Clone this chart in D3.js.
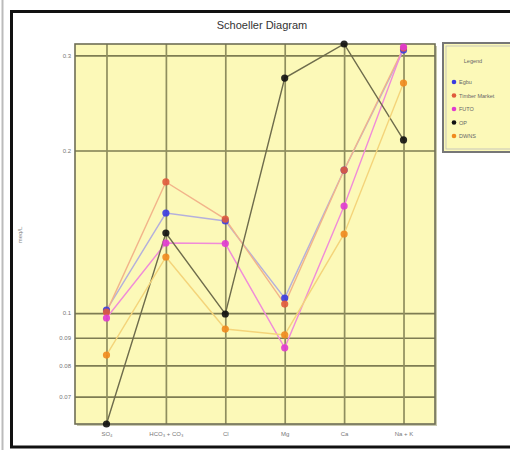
<!DOCTYPE html>
<html>
<head>
<meta charset="utf-8">
<script src="https://cdn.jsdelivr.net/npm/d3@7"></script>
<style>
  body { margin: 0; background: #fff; }
  svg { display: block; font-family: Arial, "Liberation Sans", sans-serif; }
</style>
</head>
<body>
<svg width="510" height="450"></svg>
<script>
// ions along the x axis
var ions = ["SO4", "HCO3+CO3", "Cl", "Mg", "Ca", "Na+K"];
var yTicks = [0.3, 0.2, 0.1, 0.09, 0.08, 0.07];

// meq/L
var egbu   = [0.1013, 0.1532, 0.1481, 0.1066, 0.184, 0.307];
var timber = [0.1004, 0.1749, 0.1493, 0.1039, 0.184, 0.3097];
var futo   = [0.0979, 0.1348, 0.1345, 0.0862, 0.1578, 0.311];
var op     = [0.0623, 0.1407, 0.0996, 0.2724, 0.315, 0.2092];
var dwns   = [0.0836, 0.127, 0.0934, 0.0911, 0.1401, 0.2667];

var seriesNames = ["Egbu", "Timber Market", "FUTO", "OP", "DWNS"];

var series = [
  {name: seriesNames[0], values: egbu,   dot: "#3a3ae0", line: "#b4b0dc"},
  {name: seriesNames[1], values: timber, dot: "#e05a3c", line: "#f2b48a"},
  {name: seriesNames[2], values: futo,   dot: "#e03ad0", line: "#f08cd8"},
  {name: seriesNames[3], values: op,     dot: "#111111", line: "#6e6c4c"},
  {name: seriesNames[4], values: dwns,   dot: "#f08a1e", line: "#f4d47a"}
];

var svg = d3.select("svg");

// outer frame of the screenshot
svg.append("line").attr("x1", 2.5).attr("x2", 2.5).attr("y1", 0).attr("y2", 450)
    .attr("stroke", "#bbb").attr("stroke-width", 2);
svg.append("rect").attr("x", 11.5).attr("y", 11.5).attr("width", 510).attr("height", 435.5)
    .attr("fill", "#fff").attr("stroke", "#111").attr("stroke-width", 3);

var margin = {top: 44, left: 75},
    width = 360,
    height = 380;

var x = d3.scalePoint().domain(ions).range([0, width]).padding(0.53);
var y = d3.scaleLog().domain([0.0623, 0.315]).range([height, 0]);

svg.append("text")
    .attr("x", 262).attr("y", 29)
    .attr("text-anchor", "middle")
    .attr("font-size", 11)
    .attr("fill", "#333")
    .text("Schoeller Diagram");

var g = svg.append("g")
    .attr("transform", "translate(" + margin.left + "," + margin.top + ")");

// plot background with slight shadow
g.append("rect").attr("x", 2).attr("y", 2).attr("width", width).attr("height", height)
    .attr("fill", "#c9c9b0");
g.append("rect").attr("width", width).attr("height", height)
    .attr("fill", "#fcf9b8");

// grid lines
g.append("g")
    .call(d3.axisLeft(y).tickValues(yTicks).tickSize(-width).tickFormat(""))
    .call(function (s) {
        s.select(".domain").remove();
        s.selectAll("line").attr("stroke", "#7e7d52").attr("stroke-width", 1.7);
    });
g.append("g")
    .call(d3.axisBottom(x).tickSize(height).tickFormat(""))
    .call(function (s) {
        s.select(".domain").remove();
        s.selectAll("line").attr("stroke", "#8f8e5e").attr("stroke-width", 1.7);
    });

g.append("rect").attr("width", width).attr("height", height)
    .attr("fill", "none").attr("stroke", "#6e6e55").attr("stroke-width", 1.6);

// tick labels
g.append("g")
    .call(d3.axisLeft(y).tickValues(yTicks).tickSize(0).tickPadding(4)
        .tickFormat(function (d) { return d; }))
    .call(function (s) {
        s.select(".domain").remove();
        s.selectAll("text").attr("font-size", 6).style("fill", "#777");
    });

var xLabels = {"SO4": "SO\u2084", "HCO3+CO3": "HCO\u2083 + CO\u2083", "Cl": "Cl",
               "Mg": "Mg", "Ca": "Ca", "Na+K": "Na + K"};
g.append("g")
    .attr("transform", "translate(0," + height + ")")
    .call(d3.axisBottom(x).tickSize(0).tickPadding(8)
        .tickFormat(function (d) { return xLabels[d]; }))
    .call(function (s) {
        s.select(".domain").remove();
        s.selectAll("text").attr("font-size", 6).style("fill", "#777");
    });

svg.append("text")
    .attr("transform", "translate(22,235) rotate(-90)")
    .attr("text-anchor", "middle")
    .attr("font-size", 6)
    .attr("fill", "#888")
    .text("meq/L");

var line = d3.line()
    .x(function (d, i) { return x(ions[i]); })
    .y(function (d) { return y(d); });

series.forEach(function (s) {
    g.append("path")
        .datum(s.values)
        .attr("fill", "none")
        .attr("stroke", s.line)
        .attr("stroke-width", 1.4)
        .attr("d", line);
});

series.forEach(function (s, k) {
    g.selectAll(".dot" + k)
        .data(s.values)
        .enter().append("circle")
        .attr("class", "dot" + k)
        .attr("cx", function (d, i) { return x(ions[i]); })
        .attr("cy", function (d) { return y(d); })
        .attr("r", 3.6)
        .attr("fill", s.dot)
        .attr("fill-opacity", 0.9);
});

// legend
var lg = svg.append("g").attr("transform", "translate(443,43)");
lg.append("rect").attr("width", 80).attr("height", 109)
    .attr("fill", "#fcf9b8").attr("stroke", "#777").attr("stroke-width", 2);
lg.append("rect").attr("x", 3).attr("y", 3).attr("width", 74).attr("height", 103)
    .attr("fill", "none").attr("stroke", "#bbb").attr("stroke-width", 0.8);
lg.append("text").attr("x", 30).attr("y", 20)
    .attr("text-anchor", "middle").attr("font-size", 5.5).attr("fill", "#666")
    .text("Legend");
var rows = lg.selectAll(".row").data(series).enter().append("g")
    .attr("transform", function (d, i) { return "translate(11," + (39 + i * 13.5) + ")"; });
rows.append("circle").attr("r", 2.3).attr("fill", function (d) { return d.dot; });
rows.append("text").attr("x", 5).attr("y", 2)
    .attr("font-size", 5.5).attr("fill", "#666")
    .text(function (d) { return d.name; });
</script>
</body>
</html>
